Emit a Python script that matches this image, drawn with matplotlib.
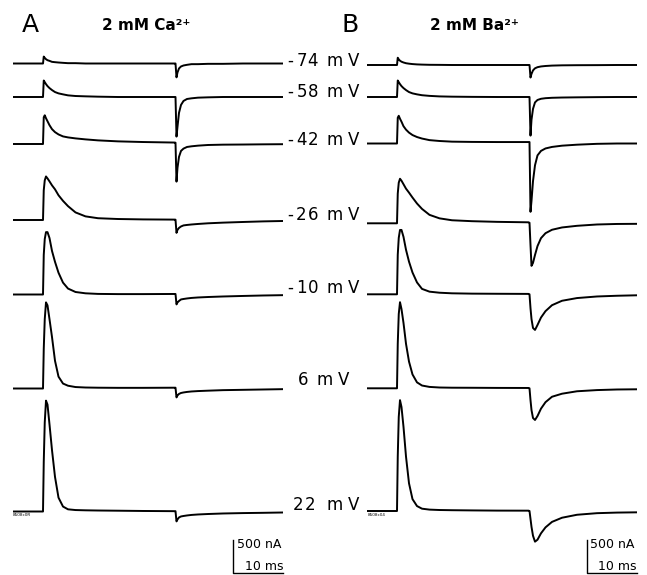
import numpy as np
import matplotlib
matplotlib.use("Agg")
import matplotlib.pyplot as plt

plt.rcParams['font.family'] = ['DejaVu Sans']

W, H = 647, 575
NA_PER_PX = 500 / 33.0   # 500 nA scale bar is 33 px tall

# time points (ms from start of sweep)
t = [0, 6.0, 6.15, 6.35, 6.6, 6.9, 7.3, 7.8, 8.4, 9.1, 10, 11, 12.5, 14.5, 17, 21, 26,
     32.3, 32.5, 32.7, 32.9, 33.2, 33.6, 34.1, 34.8, 35.7, 37, 39, 42, 46, 50, 54]

# panel A, 2 mM Ca2+ (nA)
ca_m74 = [0, 0, 105, 85, 65, 50, 40, 25, 20, 15, 10, 5, 5, 0, 0, 0, 0,
          0, 0, -210, -135, -75, -45, -30, -20, -10, -10, -5, -5, 0, 0, 0]
ca_m58 = [0, 0, 250, 225, 195, 165, 135, 105, 75, 55, 40, 25, 15, 10, 5, 0, 0,
          0, 0, -600, -450, -240, -120, -60, -30, -20, -10, -5, 0, 0, 0, 0]
ca_m42 = [0, 0, 405, 435, 390, 345, 285, 225, 180, 145, 115, 100, 85, 70, 55, 40, 30,
          22, 20, -570, -360, -195, -105, -70, -45, -35, -25, -15, -10, -8, -5, -3]
ca_m26 = [0, 0, 450, 600, 660, 630, 585, 525, 465, 375, 290, 210, 115, 55, 27, 15, 9,
          6, 5, -195, -150, -120, -98, -82, -75, -68, -60, -50, -40, -30, -21, -15]
ca_m10 = [0, 0, 600, 840, 945, 945, 855, 660, 495, 330, 180, 90, 38, 18, 9, 6, 6,
          8, 8, -150, -120, -98, -75, -68, -60, -52, -45, -38, -30, -22, -15, -10]
ca_p6 = [0, 0, 600, 1050, 1305, 1260, 1050, 780, 420, 180, 75, 42, 22, 15, 12, 10, 10,
         12, 12, -135, -105, -82, -68, -60, -52, -45, -39, -33, -25, -20, -15, -10]
ca_p22 = [0, 0, 750, 1350, 1680, 1620, 1320, 930, 525, 210, 75, 33, 22, 18, 15, 12, 8,
          5, 5, -150, -120, -90, -75, -68, -60, -52, -45, -38, -30, -24, -20, -15]

# panel B, 2 mM Ba2+ (nA)
ba_m74 = [0, 0, 110, 85, 65, 50, 38, 27, 20, 14, 9, 6, 3, 2, 0, 0, 0,
          0, 0, -190, -135, -82, -50, -33, -22, -15, -9, -5, -3, -2, 0, 0]
ba_m58 = [0, 0, 250, 225, 195, 165, 135, 105, 75, 55, 40, 27, 17, 9, 5, 2, 0,
          0, 0, -585, -345, -180, -82, -45, -27, -18, -12, -8, -5, -2, 0, 0]
ba_m42 = [0, 0, 390, 420, 375, 330, 262, 210, 165, 128, 98, 75, 51, 38, 28, 24, 22,
          22, 22, -1035, -870, -570, -330, -180, -112, -75, -52, -33, -18, -5, 0, 0]
ba_m26 = [0, 0, 450, 615, 675, 645, 592, 525, 465, 390, 300, 218, 128, 75, 46, 32, 22,
          15, 8, -330, -645, -600, -480, -345, -225, -150, -98, -63, -38, -18, -10, -8]
ba_m10 = [0, 0, 600, 855, 975, 975, 870, 675, 495, 330, 180, 82, 40, 24, 15, 10, 8,
          6, 0, -210, -375, -510, -540, -465, -352, -255, -165, -98, -57, -33, -22, -15]
ba_p6 = [0, 0, 675, 1125, 1305, 1200, 990, 675, 405, 210, 90, 42, 21, 12, 9, 8, 6,
         5, 0, -180, -330, -450, -480, -420, -308, -210, -128, -82, -45, -27, -18, -15]
ba_p22 = [0, 0, 825, 1425, 1680, 1575, 1275, 825, 420, 180, 75, 35, 21, 15, 12, 9, 6,
          5, 0, -120, -240, -375, -465, -435, -338, -248, -165, -102, -57, -33, -24, -20]

labels = ['-74', '-58', '-42', '-26', '-10', '6', '22']

ca_traces = [ca_m74, ca_m58, ca_m42, ca_m26, ca_m10, ca_p6, ca_p22]
ba_traces = [ba_m74, ba_m58, ba_m42, ba_m26, ba_m10, ba_p6, ba_p22]

# layout (pixel rows of each trace baseline)
ca_base = [63.5, 97, 144, 220, 294.5, 388.5, 511.5]
ba_base = [65, 97, 143.5, 223.3, 294.3, 388.3, 511]

fig = plt.figure(figsize=(W / 100, H / 100), dpi=100)


def px(x, y):
    return x / W, 1 - y / H


def panel(left, traces, base):
    ax = fig.add_axes([left / W, 0, 270 / W, 1])
    ax.set_xlim(0, 54)
    ax.set_ylim(-H * NA_PER_PX, 0)
    ax.axis('off')
    for vals, b in zip(traces, base):
        ax.plot(t, np.array(vals) - b * NA_PER_PX, color='black', lw=1.4,
                solid_joinstyle='round')
    # scale bar 500 nA / 10 ms
    y0 = -573 * NA_PER_PX
    ax.plot([44, 44, 54], [y0 + 500, y0, y0], color='black', lw=1.0, clip_on=False)
    return ax


panel(13, ca_traces, ca_base)
panel(367, ba_traces, ba_base)

# panel letters and titles
fig.text(*px(22, 32), 'A', fontsize=18, ha='left', va='baseline')
fig.text(*px(342, 32), 'B', fontsize=18, ha='left', va='baseline')
fig.text(*px(102, 30), '2 mM Ca²⁺', fontsize=11, fontweight='bold', ha='left', va='baseline')
fig.text(*px(430, 30), '2 mM Ba²⁺', fontsize=11, fontweight='bold', ha='left', va='baseline')

# voltage labels, letter spaced
label_y = [66, 97, 145, 220, 293, 385, 510]
num_end = [313, 313, 313, 313, 313, 303, 310]
mv_x = [335, 335, 335, 335, 335, 325, 335]
for lab, y, xe, xm in zip(labels, label_y, num_end, mv_x):
    for i, ch in enumerate(reversed(lab)):
        fig.text(*px(xe - i * 11.5, y), ch, fontsize=12, ha='center', va='baseline')
    fig.text(*px(xm, y), 'm', fontsize=12, ha='center', va='baseline')
    fig.text(*px(xm + 19, y), 'V', fontsize=12, ha='center', va='baseline')

# scale bar text
for x0 in (237, 590):
    fig.text(*px(x0, 545), '500 nA', fontsize=9, ha='left', va='center')
    fig.text(*px(x0 + 8, 566), '10 ms', fontsize=9, ha='left', va='center')

# tiny file tags
fig.text(*px(13, 515), '8508c0R', fontsize=3, ha='left', va='center')
fig.text(*px(368, 515), '8508c04', fontsize=3, ha='left', va='center')

fig.savefig('out.png', dpi=100)
